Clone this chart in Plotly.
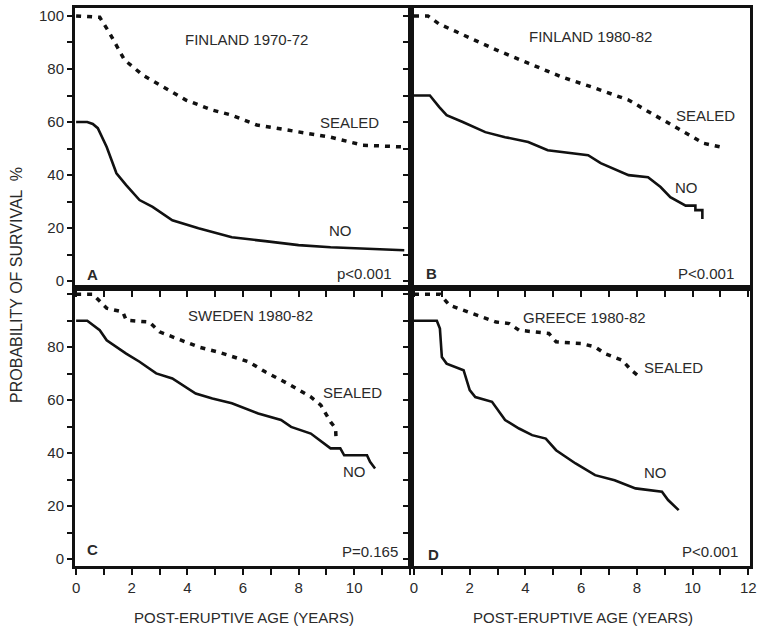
import plotly.graph_objects as go

# ---------------- data ----------------
A_sealed_x = [0, 0.85, 1.2, 1.74, 2.4, 3.2, 3.95, 4.9, 5.6, 6.5, 8.0, 9.15, 10.3, 11.8]
A_sealed_y = [100, 99.5, 93.6, 83.4, 77.7, 72.8, 68.3, 64.5, 62.6, 58.9, 56.2, 54.3, 51.3, 50.6]
A_no_x = [0, 0.4, 0.6, 0.78, 1.1, 1.45, 1.8, 2.28, 2.75, 3.46, 4.4, 5.6, 6.8, 8.0, 9.15, 10.35, 11.8]
A_no_y = [60, 60, 59.3, 57.7, 50.6, 40.7, 36.2, 30.6, 28, 23, 20, 16.6, 15.1, 13.6, 12.8, 12.3, 11.7]

B_sealed_x = [0, 0.5, 0.9, 1.75, 2.95, 4.1, 5.3, 6.5, 7.7, 8.5, 9.45, 10.4, 11.0]
B_sealed_y = [100, 100, 97, 92.8, 87.2, 82.2, 77, 72.8, 68.3, 63.4, 57.7, 52, 50.6]
B_no_x = [0, 0.57, 0.9, 1.17, 1.75, 2.56, 3.27, 4.1, 4.8, 5.9, 6.25, 6.7, 7.7, 8.4, 8.85, 9.2,
          9.75, 10.1, 10.1, 10.35, 10.35]
B_no_y = [70, 70, 65.7, 62.6, 60, 56.2, 54.3, 52.5, 49.4, 47.9, 47.5, 44.5, 40, 39.2, 35.5, 31.7,
          28.5, 28.5, 26.8, 26.8, 23.5]

C_sealed_x = [0, 0.6, 1.1, 1.68, 1.8, 2.63, 3.0, 4.4, 5.1, 6.2, 6.8, 7.6, 8.43, 8.8, 9.15, 9.33, 9.35]
C_sealed_y = [100, 100, 94.7, 93.3, 90.2, 89.5, 85.8, 80.1, 78.2, 74.5, 70.7, 66.3, 61.3, 58.1, 51.8, 49.4, 44.9]
C_no_x = [0, 0.4, 0.85, 1.1, 1.8, 2.28, 2.88, 3.46, 4.3, 4.9, 5.6, 6.55, 7.37, 7.73, 8.44, 8.92,
          9.15, 9.5, 9.64, 10.46, 10.57, 10.75]
C_no_y = [90, 90, 86.4, 82.6, 77.6, 74.5, 70.1, 68.2, 62.5, 60.6, 58.8, 55, 52.5, 49.9, 47.4, 43.7,
          41.8, 41.8, 39.2, 39.2, 36.7, 34.2]

D_sealed_x = [0, 0.93, 1.28, 1.78, 2.5, 2.95, 3.42, 3.77, 4.84, 5.1, 6.0, 6.5, 6.85, 7.47, 7.8, 8.17]
D_sealed_y = [100, 100, 95.8, 94, 91.4, 89.5, 88.9, 86.4, 85.2, 82, 81.4, 80.1, 77.6, 75.1, 71.3, 68.2]
D_no_x = [0, 0.82, 0.93, 1.0, 1.17, 1.78, 2.0, 2.2, 2.8, 3.27, 3.77, 4.24, 4.73, 5.1, 5.8, 6.5,
          7.2, 7.95, 8.9, 9.12, 9.5]
D_no_y = [90, 90, 87, 76.3, 73.8, 71.3, 63.8, 61.2, 59.4, 52.5, 49.3, 46.8, 45.5, 41.1, 36.1, 31.7,
          29.8, 26.7, 25.4, 22.3, 18.5]

panel_titles = ["FINLAND 1970-72", "FINLAND 1980-82", "SWEDEN 1980-82", "GREECE 1980-82"]
panel_letters = ["A", "B", "C", "D"]
p_values = ["p<0.001", "P<0.001", "P=0.165", "P<0.001"]
x_tick_vals = list(range(0, 13))
y_tick_vals = list(range(0, 101, 10))

# ---------------- figure ----------------
FONT = "Liberation Sans, Arial, sans-serif"
TXT = "#2a2a2a"
fig = go.Figure()

panels = [
    ("x", "y", A_sealed_x, A_sealed_y, A_no_x, A_no_y),
    ("x2", "y2", B_sealed_x, B_sealed_y, B_no_x, B_no_y),
    ("x3", "y3", C_sealed_x, C_sealed_y, C_no_x, C_no_y),
    ("x4", "y4", D_sealed_x, D_sealed_y, D_no_x, D_no_y),
]
for xa, ya, sx, sy, nx, ny in panels:
    fig.add_trace(go.Scatter(x=sx, y=sy, xaxis=xa, yaxis=ya, mode="lines",
                             line=dict(color="#111", width=3.5, dash="5px,6px"),
                             showlegend=False, hoverinfo="skip"))
    fig.add_trace(go.Scatter(x=nx, y=ny, xaxis=xa, yaxis=ya, mode="lines",
                             line=dict(color="#111", width=2.6),
                             showlegend=False, hoverinfo="skip"))

xl = [0, 0.4985]
xr = [0.4985, 1]
yb = [0, 0.498]
yt = [0.498, 1]


def xaxis(domain, anchor, labels, rng, last_label=True):
    txt = []
    for v in x_tick_vals:
        if labels and v % 2 == 0 and (v < 12 or last_label):
            txt.append(str(v))
        else:
            txt.append("")
    return dict(domain=domain, anchor=anchor, range=rng, showline=True, mirror=True,
                linewidth=3, linecolor="#111", ticks="outside", ticklen=6, tickwidth=1.5,
                tickcolor="#111", tickmode="array", tickvals=x_tick_vals, ticktext=txt,
                showgrid=False, zeroline=False,
                tickfont=dict(family=FONT, size=15, color=TXT))


def yaxis(domain, anchor, labels, rng, top_label=True):
    txt = []
    for v in y_tick_vals:
        if labels and v % 20 == 0 and (v < 100 or top_label):
            txt.append(str(v))
        else:
            txt.append("")
    return dict(domain=domain, anchor=anchor, range=rng, showline=True, mirror=True,
                linewidth=3, linecolor="#111", ticks="outside", ticklen=5, tickwidth=1.5,
                tickcolor="#111", tickmode="array", tickvals=y_tick_vals, ticktext=txt,
                showgrid=False, zeroline=False,
                tickfont=dict(family=FONT, size=15, color=TXT))


XL = [-0.04, 12.06]
XR = [-0.09, 12.06]
YT = [-2.6, 103.0]
YB = [-2.6, 102.3]

fig.update_layout(
    xaxis=xaxis(xl, "y", False, XL),
    yaxis=yaxis(yt, "x", True, YT),
    xaxis2=xaxis(xr, "y2", False, XR),
    yaxis2=yaxis(yt, "x2", False, YT),
    xaxis3=xaxis(xl, "y3", True, XL, last_label=False),
    yaxis3=yaxis(yb, "x3", True, YB, top_label=False),
    xaxis4=xaxis(xr, "y4", True, XR),
    yaxis4=yaxis(yb, "x4", False, YB),
)

ann = []
refs = [("x", "y"), ("x2", "y2"), ("x3", "y3"), ("x4", "y4")]
title_pos = [(6.12, 91.3), (6.32, 92.1), (6.26, 92.1), (6.13, 91.3)]
sealed_pos = [(9.82, 60.0), (10.48, 62.6), (9.93, 63.0), (9.33, 72.5)]
no_pos = [(9.5, 19.2), (9.77, 35.5), (10.0, 33.2), (8.68, 32.8)]
letter_pos = [(0.32, 2.6), (0.37, 3.0), (0.32, 3.7), (0.44, 1.9)]
p_pos = [(11.42, 3.0), (11.54, 3.0), (11.63, 2.8), (11.7, 2.8)]

for i, (xr_, yr_) in enumerate(refs):
    base = dict(xref=xr_, yref=yr_, showarrow=False, font=dict(family=FONT, size=15, color=TXT))
    ann.append(dict(base, x=title_pos[i][0], y=title_pos[i][1], text=panel_titles[i],
                    xanchor="center", yanchor="middle"))
    ann.append(dict(base, x=sealed_pos[i][0], y=sealed_pos[i][1], text="SEALED",
                    xanchor="center", yanchor="middle"))
    ann.append(dict(base, x=no_pos[i][0], y=no_pos[i][1], text="NO",
                    xanchor="center", yanchor="middle"))
    ann.append(dict(base, x=letter_pos[i][0], y=letter_pos[i][1], text="<b>%s</b>" % panel_letters[i],
                    xanchor="left", yanchor="middle"))
    ann.append(dict(base, x=p_pos[i][0], y=p_pos[i][1], text=p_values[i],
                    xanchor="right", yanchor="middle"))

ann.append(dict(xref="paper", yref="paper", x=0.2507, y=-0.0914, text="POST-ERUPTIVE AGE (YEARS)",
                showarrow=False, xanchor="center", yanchor="middle",
                font=dict(family=FONT, size=15, color=TXT)))
ann.append(dict(xref="paper", yref="paper", x=0.752, y=-0.0914, text="POST-ERUPTIVE AGE (YEARS)",
                showarrow=False, xanchor="center", yanchor="middle",
                font=dict(family=FONT, size=15, color=TXT)))
ann.append(dict(xref="paper", yref="paper", x=-0.086, y=0.5036, text="PROBABILITY OF SURVIVAL  %",
                showarrow=False, xanchor="center", yanchor="middle", textangle=-90,
                font=dict(family=FONT, size=16, color=TXT)))

fig.update_layout(
    annotations=ann,
    width=762, height=633,
    margin=dict(l=75, r=5, t=8, b=67),
    paper_bgcolor="white", plot_bgcolor="white",
)

fig.write_html("out.html")
